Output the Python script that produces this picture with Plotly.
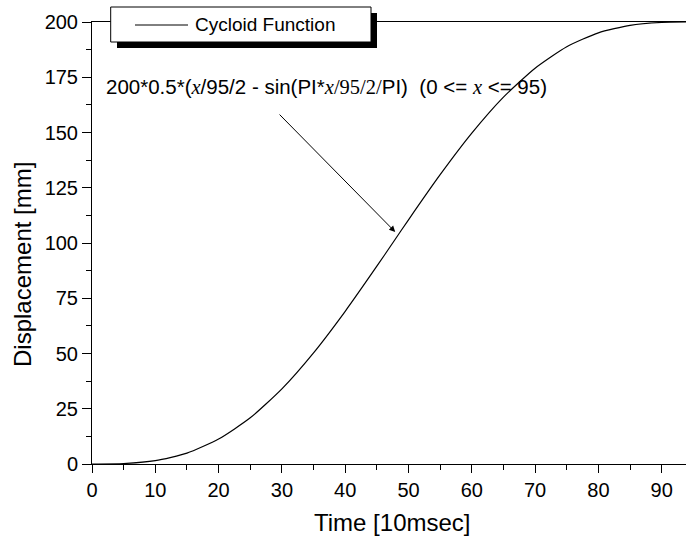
import plotly.graph_objects as go

# Values
time_10ms = [0, 5, 10, 15, 20, 25, 30, 35, 40, 45, 47.5, 50, 55, 60, 65, 70, 75, 80, 85, 90, 94]
displacement_mm = [0, 0.2, 1.5, 4.9, 11.3, 20.9, 34.0, 50.3, 69.1, 89.5, 100.0, 110.5,
                   130.9, 149.7, 166.0, 179.1, 188.8, 195.1, 198.5, 199.8, 200.0]

x_ticks = [0, 10, 20, 30, 40, 50, 60, 70, 80, 90]
y_ticks = [0, 25, 50, 75, 100, 125, 150, 175, 200]

W, H = 686, 542
L, R, T, B = 92, 0, 22, 78
PW, PH = W - L - R, H - T - B

def px(x):
    return (x - L) / PW

def py(y):
    return (H - B - y) / PH

font = "Liberation Sans, Arial, sans-serif"

fig = go.Figure()
fig.add_trace(go.Scatter(
    x=time_10ms, y=displacement_mm, mode="lines",
    line=dict(color="black", width=1.2, shape="spline", smoothing=0.6),
    showlegend=False, cliponaxis=False,
))

fig.update_layout(
    width=W, height=H,
    margin=dict(l=L, r=R, t=T, b=B, pad=0),
    paper_bgcolor="white", plot_bgcolor="white",
    font=dict(family=font, color="black"),
    xaxis=dict(
        range=[0, (W - L - R) / 6.33], tickvals=x_ticks, ticks="outside", ticklen=8,
        tickwidth=1, tickcolor="black", showline=True, linecolor="black", linewidth=1,
        mirror=True, showgrid=False, zeroline=False,
        tickfont=dict(size=20, family=font),
        minor=dict(dtick=5, tick0=0, ticks="outside", ticklen=5, tickcolor="black", showgrid=False),
    ),
    yaxis=dict(
        range=[0, 200], tickvals=y_ticks, ticks="outside", ticklen=9,
        tickwidth=1, tickcolor="black", showline=True, linecolor="black", linewidth=1,
        showgrid=False, zeroline=False,
        tickfont=dict(size=20, family=font),
        minor=dict(dtick=12.5, tick0=0, ticks="outside", ticklen=5, tickcolor="black", showgrid=False),
    ),
)

# Axis titles
fig.add_annotation(xref="paper", yref="paper", x=px(392), y=py(522),
                   text="Time [10msec]", showarrow=False,
                   xanchor="center", yanchor="middle",
                   font=dict(size=24, family=font, color="black"))
fig.add_annotation(xref="paper", yref="paper", x=px(22), y=py(265),
                   text="Displacement [mm]", showarrow=False, textangle=-90,
                   xanchor="center", yanchor="middle",
                   font=dict(size=24, family=font, color="black"))

# Legend box with shadow
fig.add_shape(type="rect", xref="paper", yref="paper",
              x0=px(117), x1=px(377), y0=py(48), y1=py(13),
              fillcolor="black", line=dict(width=0), layer="above")
fig.add_shape(type="rect", xref="paper", yref="paper",
              x0=px(110.7), x1=px(371), y0=py(42), y1=py(7),
              fillcolor="white", line=dict(color="black", width=1), layer="above")
fig.add_shape(type="line", xref="paper", yref="paper",
              x0=px(135), x1=px(188), y0=py(25), y1=py(25),
              line=dict(color="black", width=1), layer="above")
fig.add_annotation(xref="paper", yref="paper", x=px(193), y=py(25),
                   text="Cycloid Function", showarrow=False,
                   xanchor="left", yanchor="middle",
                   font=dict(size=19, family=font, color="black"))

# Formula label and arrow
xi = '<span style="font-family:Liberation Serif, Times New Roman, serif;font-style:italic">x</span>'
ser = '<span style="font-family:Liberation Serif, Times New Roman, serif">/95/2/</span>'
label = ("200*0.5*(" + xi + "/95/2 - sin(PI*" + xi + ser + "PI)&nbsp;&nbsp;(0 &lt;= " + xi + " &lt;= 95)")
fig.add_annotation(xref="x", yref="y", x=1.9, y=170.6, text=label, showarrow=False,
                   xanchor="left", yanchor="middle",
                   font=dict(size=20.5, family=font, color="black"))
fig.add_annotation(xref="x", yref="y", x=47.9, y=105, ax=29.4, ay=158.8,
                   axref="x", ayref="y", text="", showarrow=True,
                   arrowhead=2, arrowsize=1.2, arrowwidth=1, arrowcolor="black")

fig.write_html("out.html")
